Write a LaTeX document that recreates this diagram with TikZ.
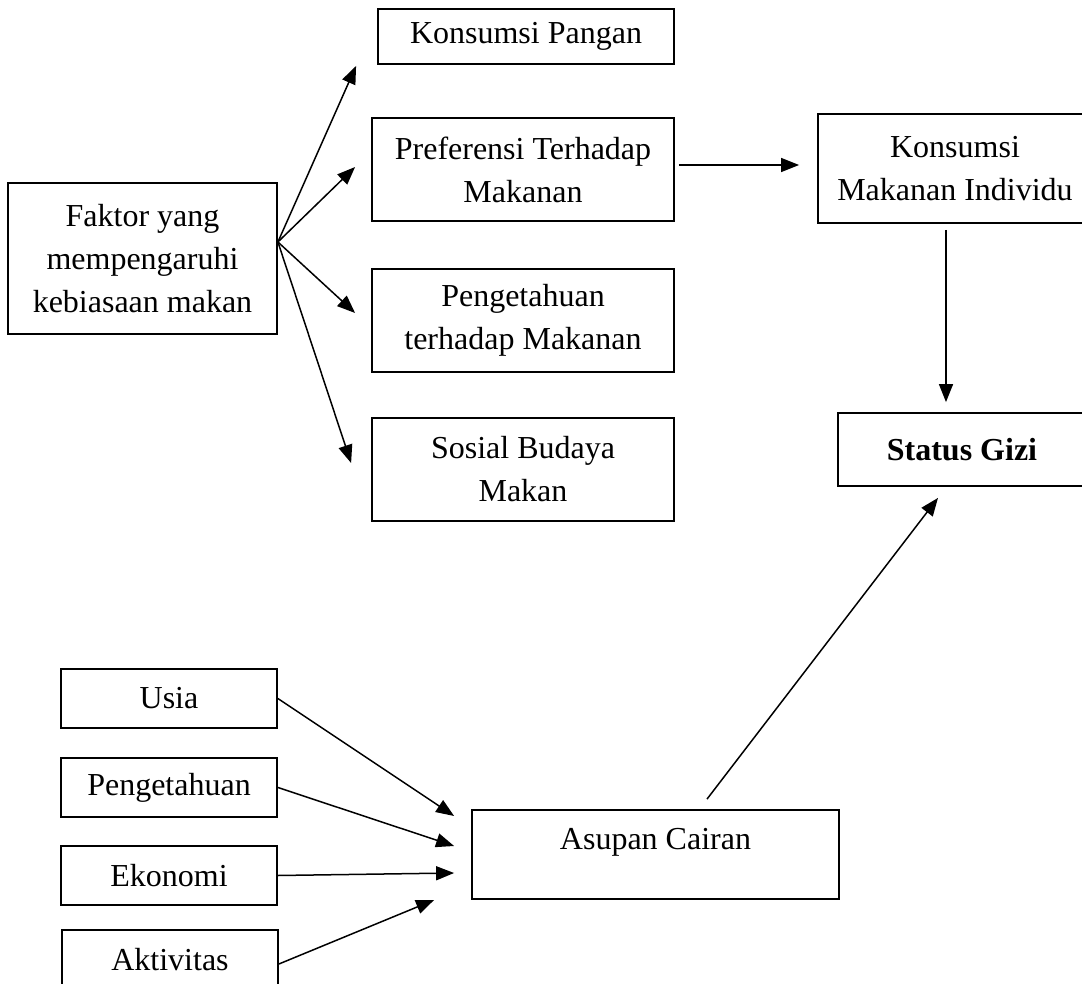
\documentclass[tikz,border=0pt]{standalone}
\usepackage{fontspec}
\setmainfont{Liberation Serif}
\usetikzlibrary{arrows.meta}

\tikzset{
  box/.style={draw, line width=0.9pt, align=center, inner sep=0pt, font=\fontsize{16}{21.5}\selectfont},
  arr/.style={-{Triangle[length=9pt,width=7pt]}, line width=0.75pt},
}

\begin{document}
\begin{tikzpicture}[x=0.5pt, y=-0.5pt]
\useasboundingbox (0,0) rectangle (1082,984);

\node (faktor) at (142.5,258.5) [box, minimum width=134.5pt, minimum height=75.5pt] {Faktor yang\\mempengaruhi\\kebiasaan makan};
\node (pangan) at (526,36.5) [box, minimum width=148pt, minimum height=27.5pt] {Konsumsi Pangan};
\node (preferensi) at (523,169.5) [box, minimum width=151pt, minimum height=51.5pt] {Preferensi Terhadap\\Makanan};
\node (pengetahuan) at (523,320.5) [box, minimum width=151pt, minimum height=51.5pt] {Pengetahuan\\terhadap Makanan};
\node (sosial) at (523,469.5) [box, minimum width=151pt, minimum height=51.5pt] {Sosial Budaya\\Makan};
\node (konsumsi) at (955,168.5) [box, minimum width=137pt, minimum height=54.5pt] {Konsumsi\\Makanan Individu};
\node (status) at (962,449.5) [box, minimum width=124pt, minimum height=36.5pt] {\textbf{Status Gizi}};

\node (usia) at (169,698.5) [box, minimum width=108pt, minimum height=29.5pt] {Usia};
\node (tahu) at (169,787.5) [box, minimum width=108pt, minimum height=29.5pt] {Pengetahuan};
\node (ekonomi) at (169,875.5) [box, minimum width=108pt, minimum height=29.5pt] {Ekonomi};
\node (aktivitas) at (170,959.5) [box, minimum width=108pt, minimum height=29.5pt] {Aktivitas};
\node (asupan) at (655.5,854.5) [box, minimum width=183.5pt, minimum height=44.5pt, text height=11pt, text depth=16pt] {Asupan Cairan};

% kebiasaan makan
\coordinate (fork) at ([yshift=8.25pt]faktor.east);
\draw[arr] (fork) -- ([xshift=-10.5pt,yshift=-0.5pt]pangan.south west);
\draw[arr] (fork) -- ([xshift=-8pt,yshift=1.25pt]preferensi.west);
\draw[arr] (fork) -- ([xshift=-8pt,yshift=3.75pt]pengetahuan.west);
\draw[arr] (fork) -- ([xshift=-10pt,yshift=3.25pt]sosial.west);

\draw[arr] ([xshift=2pt,yshift=2.25pt]preferensi.east) -- ([xshift=-9pt,yshift=1.75pt]konsumsi.west);
\draw[arr] ([xshift=-4.5pt,yshift=-3pt]konsumsi.south) -- ([xshift=-8pt,yshift=5pt]status.north);

% asupan cairan
\draw[arr] (usia.east) -- ([xshift=-8.5pt,yshift=19.25pt]asupan.west);
\draw[arr] (tahu.east) -- ([xshift=-8.5pt,yshift=4.25pt]asupan.west);
\draw[arr] (ekonomi.east) -- ([xshift=-8.5pt,yshift=-9.25pt]asupan.west);
\draw[arr] ([yshift=-2.25pt]aktivitas.east) -- ([xshift=-18.5pt,yshift=-22.75pt]asupan.west);
\draw[arr] ([xshift=25.75pt,yshift=5pt]asupan.north) -- ([xshift=-12pt,yshift=-5.5pt]status.south);
\end{tikzpicture}
\end{document}
